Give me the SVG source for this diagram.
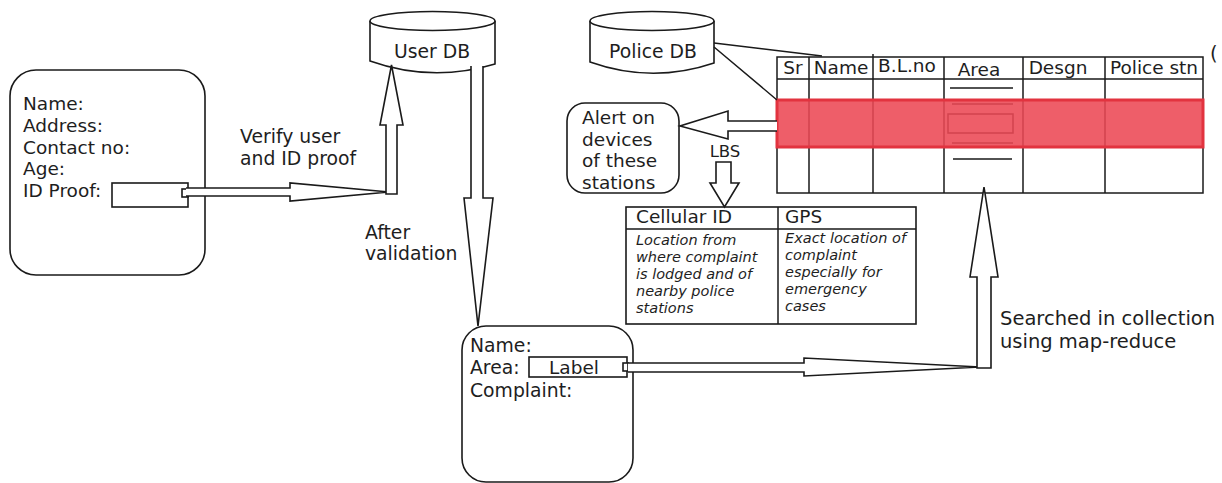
<svg xmlns="http://www.w3.org/2000/svg" width="1222" height="483" viewBox="0 0 1222 483">
<style>
.t{font-family:"DejaVu Sans","Liberation Sans",sans-serif;font-size:18.8px;fill:#1e1e1e}
.f{font-size:18.5px}
.h{font-size:18.5px;text-anchor:middle}
.i{font-style:italic;font-size:14.5px}
.s{font-size:16.5px}
.g{font-size:19.5px}
.ln{fill:none;stroke:#1a1a1a;stroke-width:1.5}
.box{fill:#fff;stroke:#1a1a1a;stroke-width:1.6}
.arr{fill:#fff;stroke:#1a1a1a;stroke-width:1.6;stroke-linejoin:miter}
</style>
<rect width="1222" height="483" fill="#fff"/>

<g id="user-form">
  <rect class="box" x="10" y="70" width="195" height="205" rx="26"/>
  <text class="t f" x="23" y="110">Name:</text>
  <text class="t f" x="23" y="132">Address:</text>
  <text class="t f" x="23" y="154">Contact no:</text>
  <text class="t f" x="23" y="175">Age:</text>
  <text class="t f" x="23" y="197">ID Proof:</text>
  <rect class="box" x="112" y="183" width="76" height="24"/>
  <rect class="box" x="182" y="189" width="6" height="8"/>
</g>

<g id="user-db">
  <path class="box" d="M370,21 V61 Q432,83 495,64 V21"/>
  <ellipse class="box" cx="432.5" cy="21" rx="62.5" ry="9.5"/>
  <text class="t" x="432" y="58" text-anchor="middle">User DB</text>
</g>

<g id="police-db">
  <path class="box" d="M590,21 V62 Q652,84 714,63 V21"/>
  <ellipse class="box" cx="652" cy="21" rx="62" ry="9.5"/>
  <text class="t" x="653" y="58" text-anchor="middle">Police DB</text>
</g>

<g id="police-table">
  <rect class="ln" x="777" y="57" width="426" height="136"/>
  <path class="ln" d="M809,57V193 M873,54V193 M944,57V193 M1023,57V193 M1105,57V193 M777,79H1203 M777,100H1203 M777,147H1203"/>
  <path class="ln" d="M950,88H1013 M952,104H1013 M952,143H1013 M953,159H1012"/>
  <rect class="ln" x="948" y="114" width="65" height="19"/>
  <rect x="777" y="100" width="426" height="47" fill="rgb(236,72,84)" fill-opacity="0.88" stroke="#e2333f" stroke-width="3"/>
  <text class="t h" x="793" y="74">Sr</text>
  <text class="t h" x="841" y="74">Name</text>
  <text class="t h" x="907" y="72">B.L.no</text>
  <text class="t h" x="979" y="76">Area</text>
  <text class="t h" x="1058" y="74">Desgn</text>
  <text class="t h" x="1154" y="74">Police stn</text>
</g>

<g id="alert">
  <rect class="box" x="567" y="103" width="112" height="90" rx="18"/>
  <text class="t f" x="582" y="124">Alert on</text>
  <text class="t f" x="582" y="146">devices</text>
  <text class="t f" x="582" y="167">of these</text>
  <text class="t f" x="582" y="189">stations</text>
</g>

<g id="lbs-table">
  <rect class="box" x="626" y="207" width="290" height="117"/>
  <path class="ln" d="M626,229H916 M778,207V324"/>
  <text class="t f" x="636" y="223">Cellular ID</text>
  <text class="t f" x="785" y="223">GPS</text>
  <text class="t i" x="636" y="245">Location from</text>
  <text class="t i" x="636" y="262">where complaint</text>
  <text class="t i" x="636" y="279">is lodged and of</text>
  <text class="t i" x="636" y="296">nearby police</text>
  <text class="t i" x="636" y="313">stations</text>
  <text class="t i" x="785" y="243">Exact location of</text>
  <text class="t i" x="785" y="260">complaint</text>
  <text class="t i" x="785" y="277">especially for</text>
  <text class="t i" x="785" y="294">emergency</text>
  <text class="t i" x="785" y="311">cases</text>
</g>

<g id="complaint-form">
  <rect class="box" x="462" y="326" width="171" height="156" rx="24"/>
  <text class="t" x="470" y="352">Name:</text>
  <text class="t" x="470" y="374">Area:</text>
  <text class="t" x="470" y="397">Complaint:</text>
  <rect class="box" x="529" y="357" width="98" height="20"/>
  <text class="t f" x="574" y="374" text-anchor="middle">Label</text>
  <rect class="box" x="623" y="363" width="5" height="8"/>
</g>

<g id="connectors">
  <path class="arr" d="M186,188 H290 V183 L389,192 L290,201 V196 H186"/>
  <path class="arr" d="M386,194 V125 H380 L391.5,65 L403,125 H397 V194 Z"/>
  <path class="arr" d="M471,66 V198 H464 L478,326 L493,198 H483 V66"/>
  <path class="arr" d="M628,363 H804 V358 L980,367 L804,376 V372 H628"/>
  <path class="arr" d="M977,368 V277 H970 L984,187 L998,277 H991 V368 Z"/>
  <path class="arr" d="M777,121 H728 V111 L680,126 L728,139 V131 H777"/>
  <path class="arr" d="M716,162 V183 H710 L724.5,207 L739,183 H731 V162 Z"/>
  <path class="ln" d="M714,43 L822,56 M714,47 L777,100"/>
</g>

<g id="labels">
  <text class="t" x="240" y="143">Verify user</text>
  <text class="t" x="240" y="165">and ID proof</text>
  <text class="t" x="365" y="239">After</text>
  <text class="t" x="365" y="260">validation</text>
  <text class="t s" x="725" y="157" text-anchor="middle">LBS</text>
  <text class="t g" x="1000" y="325">Searched in collection</text>
  <text class="t g" x="1000" y="348">using map-reduce</text>
  <text class="t g" x="1210" y="60">(</text>
</g>
</svg>
